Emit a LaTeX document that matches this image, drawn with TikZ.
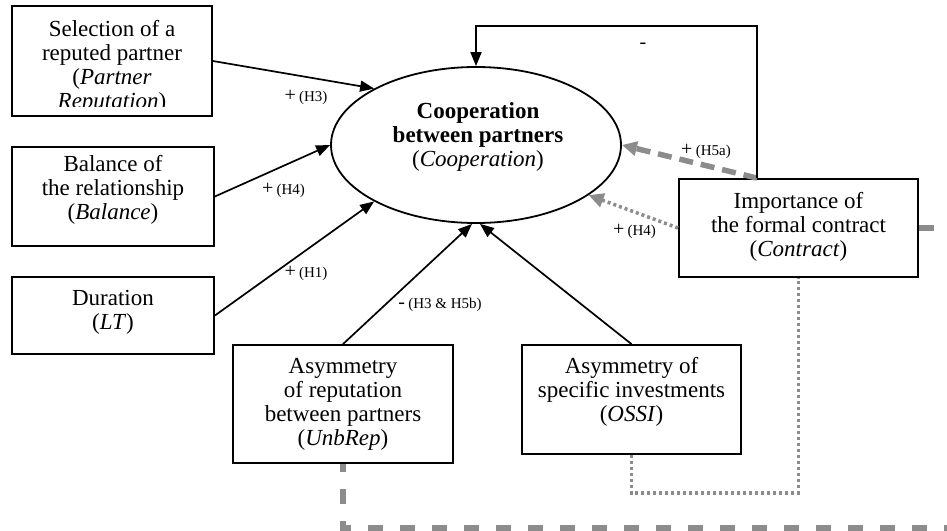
\documentclass[tikz,border=0pt]{standalone}
\usepackage{fontspec}
\setmainfont{Liberation Serif}
\usetikzlibrary{shapes.geometric,arrows.meta,calc}
\newcommand{\boxfont}{\fontsize{23}{24}\selectfont}
\newcommand{\labfont}{\fontsize{15}{16}\selectfont}
\newcommand{\plusfont}{\fontsize{20}{20}\selectfont}
\begin{document}
\begin{tikzpicture}[x=1pt,y=-1pt,
  boxst/.style={draw, line width=1.8pt, inner sep=0pt, rectangle},
  txt/.style={align=center, font=\boxfont, inner sep=0pt},
  lab/.style={inner sep=0pt},
  arr/.style={line width=1.7pt, -{Triangle[length=14pt,width=11pt]}},
  gdash/.style={draw=gray!90, line width=5.5pt, dash pattern=on 14pt off 8pt},
  gdot/.style={draw=gray!90, line width=3.5pt, dash pattern=on 3pt off 3pt},
  gbig/.style={draw=gray!90, line width=5.5pt, dash pattern=on 15pt off 17pt},
  gtip/.style={-{Triangle[length=15pt,width=14pt,fill=gray!90,color=gray!90]}}]
\clip (0,0) rectangle (947,530);
\fill[white] (0,0) rectangle (947,530);

% boxes
\node[boxst, minimum width=200pt, minimum height=110pt] (sel) at (112,61) {};
\node[boxst, minimum width=202pt, minimum height=99pt] (bal) at (113,196.5) {};
\node[boxst, minimum width=202pt, minimum height=77pt] (dur) at (113,315.5) {};
\node[boxst, minimum width=239pt, minimum height=98pt] (con) at (798.5,228) {};
\node[boxst, minimum width=220pt, minimum height=118pt] (unb) at (343,404) {};
\node[boxst, minimum width=219pt, minimum height=109pt] (oss) at (631.5,399.5) {};
\node[draw, ellipse, line width=1.8pt, minimum width=290pt, minimum height=156pt, inner sep=0pt] (coop) at (476,145) {};

% texts
\begin{scope}
\clip (12,6) rectangle (212,106);
\node[txt] (selt) at (112,66.5) {Selection of a\\reputed partner\\(\textit{Partner}\\\textit{Reputation})};
\end{scope}
\node[txt] (balt) at (113,190) {Balance of\\the relationship\\(\textit{Balance})};
\node[txt] (durt) at (113,312.5) {Duration\\(\textit{LT})};
\node[txt] (cont) at (798.5,226.5) {Importance of\\the formal contract\\(\textit{Contract})};
\node[txt] (unbt) at (343,404) {Asymmetry\\of reputation\\between partners\\(\textit{UnbRep})};
\node[txt] (osst) at (631.5,392) {Asymmetry of\\specific investments\\(\textit{OSSI})};
\node[txt] (coopt) at (478,137) {\textbf{Cooperation}\\\textbf{between partners}\\(\textit{Cooperation})};

% coordinates
\coordinate (ct) at ($(con.north west)+(79,0)$);
\coordinate (top) at (0,26);
\coordinate (dd) at (798.5,493);
\coordinate (farr) at (965,0);
\coordinate (fbot) at (0,528);

% gray connectors
\draw[gbig] (con.east) -- (con.east -| farr) -- (farr |- fbot) -- (unb.south |- fbot) -- (unb.south);
\draw[gdot] (oss.south) |- (dd) -- (con.south);
\draw[gdash, gtip] (ct) -- (coop.east);
\draw[gdot, gtip] (con.west) -- (coop.-24);

% black connectors
\draw[arr] (sel.east) -- (coop.151);
\draw[arr] (bal.east) -- (coop.west);
\draw[arr] (dur.east) -- (coop.209);
\draw[arr] (unb.north) -- ($(coop.south)+(-4,0)$);
\draw[arr] (oss.north) -- ($(coop.south)+(4,0)$);
\draw[arr] (ct) -- (ct |- top) -| (coop.north);

% labels
\node[lab] (l1) at (306,97) {\plusfont +\,\labfont (H3)};
\node[lab] (l2) at (283.5,190) {\plusfont +\,\labfont (H4)};
\node[lab] (l3) at (306,273) {\plusfont +\,\labfont (H1)};
\node[lab] (l4) at (440,305) {\plusfont -\,\labfont (H3 \& H5b)};
\node[lab] (l5) at (643,46) {\plusfont -};
\node[lab] (l6) at (706,151) {\plusfont +\,\labfont (H5a)};
\node[lab] (l7) at (634.5,231) {\plusfont +\,\labfont (H4)};
\end{tikzpicture}
\end{document}
